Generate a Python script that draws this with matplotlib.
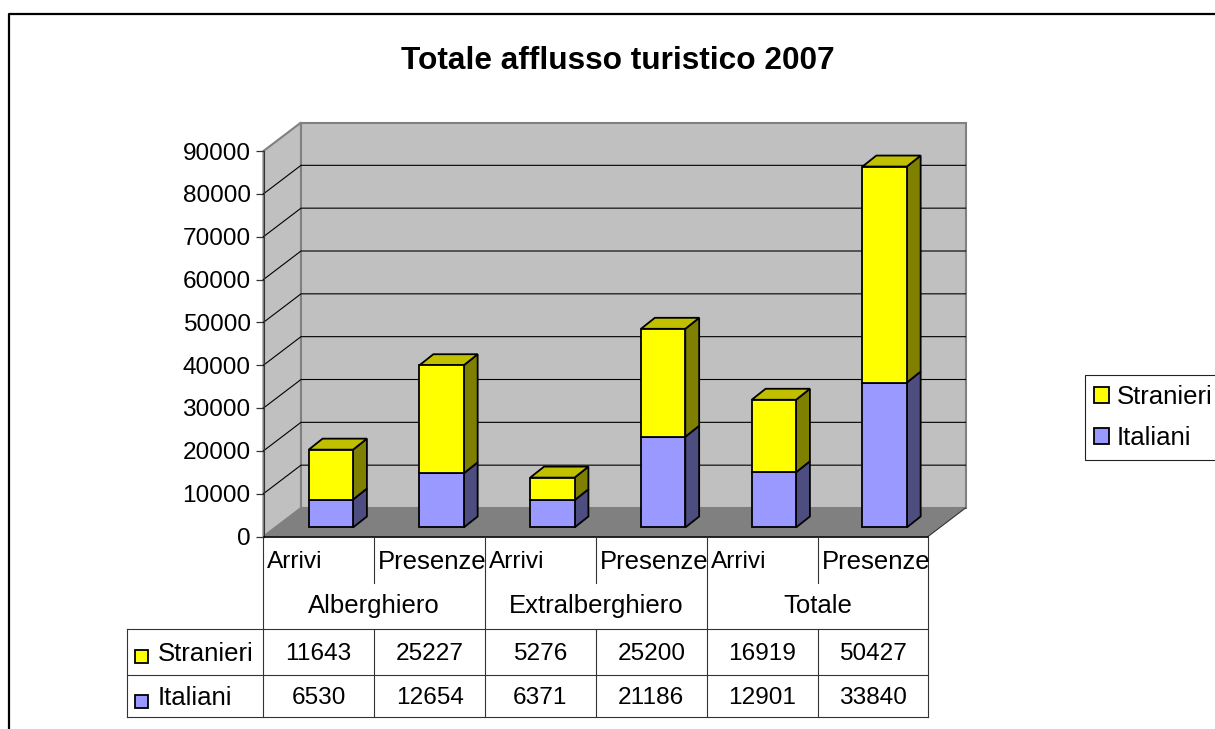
# -*- coding: utf-8 -*-
import matplotlib
matplotlib.use("Agg")
import matplotlib.pyplot as plt
from matplotlib.patches import Patch, Rectangle

plt.rcParams['font.family'] = ['Liberation Sans', 'DejaVu Sans']

gruppi = ["Alberghiero", "Extralberghiero", "Totale"]
categorie = ["Arrivi", "Presenze", "Arrivi", "Presenze", "Arrivi", "Presenze"]
stranieri = [11643, 25227, 5276, 25200, 16919, 50427]
italiani = [6530, 12654, 6371, 21186, 12901, 33840]
yticks = [0, 10000, 20000, 30000, 40000, 50000, 60000, 70000, 80000, 90000]

W, H = 1215, 729
GIALLO = ["#ffff00", "#808000", "#c0c000"]
VIOLA = ["#9999ff", "#4d4d80", "#7a7acc"]
FS = 17.6
FS_TXT = 18.5

fig = plt.figure(figsize=(W / 100, H / 100), dpi=100, facecolor="white")

# assi del piano frontale (x 263.5-928, y 151-536.5 in pixel)
ax = fig.add_axes([263.5 / W, 1 - 536.5 / H, (928 - 263.5) / W, (536.5 - 151) / H])
ax.set_xlim(-0.5, 5.5)
ax.set_ylim(0, 90000)
ax.patch.set_visible(False)

# profondita' 3D in unita' dati
dx = 37.5 / (664.5 / 6)
dy = 28.5 / 385.5 * 90000

# pareti
x0, x1 = -0.5, 5.5
ax.fill([x0, x0 + dx, x0 + dx, x0], [0, dy, 90000 + dy, 90000], fc="#c0c0c0", ec="#808080", lw=1.5, zorder=1, clip_on=False)
ax.fill([x0 + dx, x1 + dx, x1 + dx, x0 + dx], [dy, dy, 90000 + dy, 90000 + dy], fc="#c0c0c0", ec="#808080", lw=1.5, zorder=1, clip_on=False)
ax.fill([x0, x1, x1 + dx, x0 + dx], [0, 0, dy, dy], color="#808080", lw=0, zorder=1, clip_on=False)
ax.plot([x1, x1 + dx], [0, dy], color="#333333", lw=0.8, zorder=2, clip_on=False)

# griglia
for t in yticks[1:-1]:
    ax.plot([x0, x0 + dx, x1 + dx], [t, t + dy, t + dy], color="black", lw=0.8, zorder=2, clip_on=False)


def barra3d(x, base, alto, colori, coperchio):
    larg = 0.4
    sx = x + 0.32 * dx - larg / 2
    ex = sx + larg
    y0 = base + 0.316 * dy
    y1 = alto + 0.316 * dy
    px = 0.37 * dx
    py = 0.386 * dy
    ax.fill([ex, ex + px, ex + px, ex], [y0, y0 + py, y1 + py, y1], fc=colori[1], ec="black", lw=1.3, zorder=3, clip_on=False)
    if coperchio:
        ax.fill([sx, ex, ex + px, sx + px], [y1, y1, y1 + py, y1 + py], fc=colori[2], ec="black", lw=1.3, zorder=3, clip_on=False)
    ax.bar(x + 0.32 * dx, alto - base, width=larg, bottom=y0, color=colori[0], edgecolor="black", lw=1.3, zorder=4, clip_on=False)


for i in range(len(categorie)):
    barra3d(i, 0, italiani[i], VIOLA, False)
    barra3d(i, italiani[i], italiani[i] + stranieri[i], GIALLO, True)

ax.set_xticks([])
ax.set_yticks(yticks)
ax.tick_params(axis="y", length=5.8, width=0.9, pad=3.5, labelsize=FS, color="#333333")
for s in ["top", "right"]:
    ax.spines[s].set_visible(False)
ax.spines["left"].set_color("#333333")
ax.spines["bottom"].set_color("black")
ax.spines["bottom"].set_linewidth(1.2)
ax.spines["bottom"].set_zorder(5)

# overlay in pixel per cornice, titolo e tabella
ov = fig.add_axes([0, 0, 1, 1], zorder=5)
ov.set_xlim(0, W)
ov.set_ylim(H, 0)
ov.axis("off")

ov.plot([9, 9, W], [H, 14, 14], color="black", lw=1.6, clip_on=False)
ov.text(618, 61, "Totale afflusso turistico 2007", ha="center", va="center", fontsize=22.8, fontweight="bold")

colx = [263.3 + i * 110.85 for i in range(7)]
grigio = "#333333"
for i, x in enumerate(colx):
    if i % 2 == 0:
        ov.plot([x, x], [537, 717], color=grigio, lw=0.8)
    else:
        ov.plot([x, x], [537, 583], color=grigio, lw=0.8)
        ov.plot([x, x], [629, 717], color=grigio, lw=0.8)
for y in [629, 675, 717]:
    ov.plot([127, colx[-1]], [y, y], color=grigio, lw=0.8)
ov.plot([127, 127], [629, 717], color=grigio, lw=0.8)

for i, c in enumerate(categorie):
    t = ov.text(colx[i] + 4, 562, c, ha="left", va="center", fontsize=FS if c == "Arrivi" else FS_TXT)
    t.set_clip_path(Rectangle((colx[i], 537), colx[i + 1] - colx[i], 46, transform=ov.transData))
    ov.text((colx[i] + colx[i + 1]) / 2, 654, str(stranieri[i]), ha="center", va="center", fontsize=FS)
    ov.text((colx[i] + colx[i + 1]) / 2, 698, str(italiani[i]), ha="center", va="center", fontsize=FS)
for i, g in enumerate(gruppi):
    ov.text(colx[2 * i + 1], 606, g, ha="center", va="center", fontsize=FS_TXT)

ov.add_patch(Rectangle((135, 650), 13, 13, fc=GIALLO[0], ec="black", lw=1.3))
ov.add_patch(Rectangle((135, 695), 13, 13, fc=VIOLA[0], ec="black", lw=1.3))
ov.text(158, 654, "Stranieri", ha="left", va="center", fontsize=FS_TXT)
ov.text(158, 698, "Italiani", ha="left", va="center", fontsize=FS_TXT)

# legenda
leg = fig.legend(
    handles=[Patch(fc=GIALLO[0], ec="black", lw=1.3, label="Stranieri"),
             Patch(fc=VIOLA[0], ec="black", lw=1.3, label="Italiani")],
    loc="upper left", bbox_to_anchor=(1084.5 / W, 1 - 375.5 / H), borderaxespad=0,
    fontsize=FS_TXT, frameon=True, fancybox=False, edgecolor="#222222", framealpha=1,
    handlelength=0.58, handleheight=0.58, handletextpad=0.3, labelspacing=0.66,
    borderpad=0.38,
)
leg.get_frame().set_linewidth(0.8)

fig.savefig("out.png", dpi=100)
